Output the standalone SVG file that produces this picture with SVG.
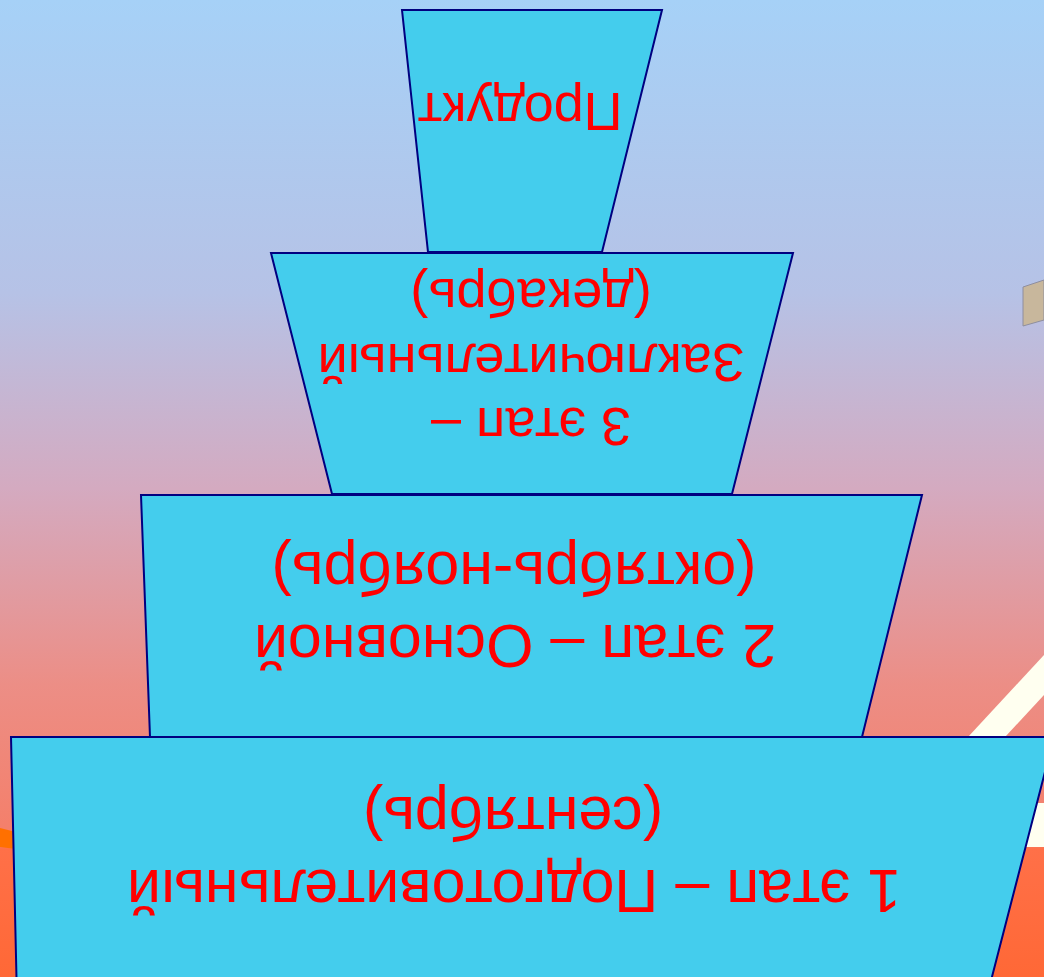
<svg xmlns="http://www.w3.org/2000/svg" width="1044" height="977" viewBox="0 0 1044 977">
  <defs>
    <linearGradient id="bg" x1="0" y1="0" x2="0" y2="1">
      <stop offset="0" stop-color="#A6D1F7"/>
      <stop offset="0.3" stop-color="#B6C2E6"/>
      <stop offset="0.5" stop-color="#D4AAC0"/>
      <stop offset="0.7" stop-color="#EC8E86"/>
      <stop offset="0.864" stop-color="#F57E68"/>
      <stop offset="0.869" stop-color="#FF7048"/>
      <stop offset="1" stop-color="#FF6836"/>
    </linearGradient>
  </defs>
  <style>
    .stage { fill: #44CDED; stroke: #000080; stroke-width: 2; stroke-linejoin: miter; }
    .lbl { fill: #FF0000; font-family: "Liberation Sans", Arial, sans-serif; text-anchor: middle; }
    .s54 { font-size: 54px; }
    .s61 { font-size: 61px; }
  </style>
  <g id="background">
    <rect x="0" y="0" width="1044" height="977" fill="url(#bg)"/>
    <polygon points="968,737 1005,737 1044,695 1044,655" fill="#FFFFF0"/>
    <rect x="1000" y="803" width="44" height="44" fill="#FFFFF0"/>
    <polygon points="0,828 16,832 16,849 0,847" fill="#FF7000"/>
    <polygon points="1023,287 1044,280 1044,320 1023,326" fill="#C8B79C" stroke="#8E8E9E" stroke-width="1"/>
  </g>
  <g id="connectors"/>
  <g id="stage-product">
    <polygon class="stage" points="402,10 662,10 602,252 428,252"/>
    <text class="lbl s54" transform="translate(520,93) rotate(180)">Продукт</text>
  </g>
  <g id="stage-3">
    <polygon class="stage" points="271,253 793,253 732,494 332,494"/>
    <text class="lbl s54" transform="translate(531,279) rotate(180)">(декабрь)</text>
    <text class="lbl s54" transform="translate(531,344) rotate(180)">Заключительный</text>
    <text class="lbl s54" transform="translate(531,408) rotate(180)">3 этап –</text>
  </g>
  <g id="stage-2">
    <polygon class="stage" points="141,495 922,495 862,737 150,737"/>
    <text class="lbl s61" transform="translate(514,552) rotate(180)">(октябрь-ноябрь)</text>
    <text class="lbl s61" transform="translate(515,625) rotate(180)">2 этап – Основной</text>
  </g>
  <g id="stage-1">
    <polygon class="stage" points="11,737 1054,737 986,1000 17,1000"/>
    <text class="lbl s61" transform="translate(513,797) rotate(180)">(сентябрь)</text>
    <text class="lbl s61" transform="translate(514,870) rotate(180)">1 этап – Подготовительный</text>
  </g>
</svg>
